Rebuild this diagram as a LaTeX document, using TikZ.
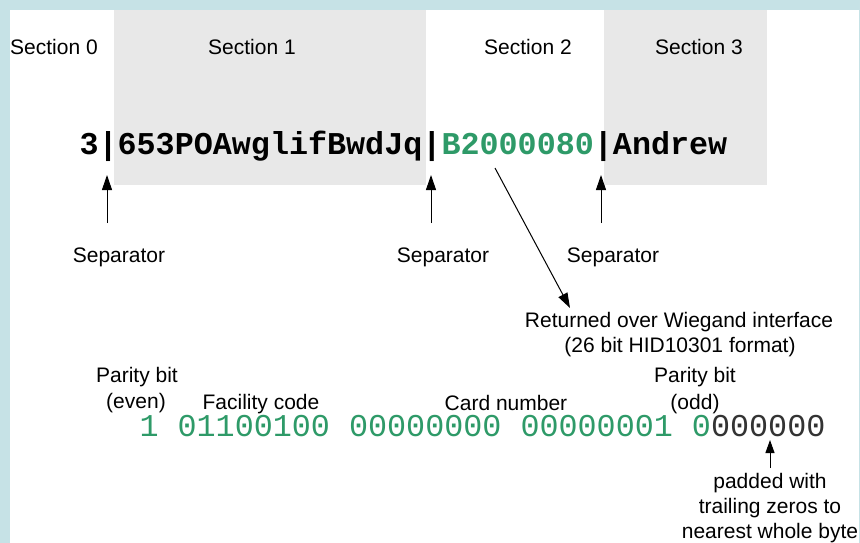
\documentclass[tikz,border=0pt]{standalone}
\usepackage{fontspec}
\setmainfont{Liberation Sans}
\newfontfamily\monofont{Liberation Mono}
\usetikzlibrary{arrows.meta}
\definecolor{frameblue}{RGB}{198,226,230}
\definecolor{boxgray}{RGB}{232,232,232}
\definecolor{bitgreen}{RGB}{46,154,104}
\definecolor{padgray}{RGB}{51,51,51}
\begin{document}
\begin{tikzpicture}[x=1pt,y=-1pt,
  lbl/.style={font=\fontsize{21}{25}\selectfont, inner sep=0pt, outer sep=0pt, anchor=base},
  code/.style={font=\monofont\fontsize{31.75}{36}\selectfont, inner sep=0pt, outer sep=0pt, anchor=base west},
  arr/.style={line width=1pt, -{Triangle[length=15pt,width=10pt]}},
  smallarr/.style={line width=1pt, -{Triangle[length=13pt,width=9pt]}}]
\useasboundingbox (0,0) rectangle (860,543);
% frame
\fill[frameblue] (0,0) rectangle (860,543);
\fill[white] (10,10) rectangle (858.5,543);
% section backgrounds
\fill[boxgray] (114,10) rectangle (426,185);
\fill[boxgray] (604,10) rectangle (767,185);
% section labels
\node[lbl] (s0) at (54,55) {Section 0};
\node[lbl] (s1) at (252,55) {Section 1};
\node[lbl] (s2) at (528,55) {Section 2};
\node[lbl] (s3) at (699,55) {Section 3};
% main string
\node[code, font=\monofont\bfseries\fontsize{31.75}{36}\selectfont] (str) at (79.5,154)
  {3|653POAwglifBwdJq|\textcolor{bitgreen}{B2000080}|Andrew};
% separator labels
\node[lbl] (sep1) at (119,262) {Separator};
\node[lbl] (sep2) at (443,262) {Separator};
\node[lbl] (sep3) at (613,262) {Separator};
% separator arrows
\coordinate (t1) at (107,223); \coordinate (h1) at (107,175);
\coordinate (t2) at (431,223); \coordinate (h2) at (431,175);
\coordinate (t3) at (601,223); \coordinate (h3) at (601,175);
\draw[arr] (t1) -- (h1);
\draw[arr] (t2) -- (h2);
\draw[arr] (t3) -- (h3);
% Wiegand
\node[lbl] (ret1) at (679,327) {Returned over Wiegand interface};
\node[lbl] (ret2) at (680,352) {(26 bit HID10301 format)};
\coordinate (wt) at (495,168); \coordinate (wh) at (570,308);
\draw[arr] (wt) -- (wh);
% bit labels
\node[lbl] (pe1) at (137,382) {Parity bit};
\node[lbl] (pe2) at (136,408) {(even)};
\node[lbl] (fc) at (261,409) {Facility code};
\node[lbl] (cn) at (506,410) {Card number};
\node[lbl] (po1) at (695,382) {Parity bit};
\node[lbl] (po2) at (695,409) {(odd)};
% bit string
\node[code] (bits) at (139.5,436)
  {\textcolor{bitgreen}{1 01100100 00000000 00000001 0}\textcolor{padgray}{000000}};
% padding
\coordinate (pt) at (770,468); \coordinate (ph) at (770,440);
\draw[smallarr] (pt) -- (ph);
\node[lbl] (pd1) at (770,488) {padded with};
\node[lbl] (pd2) at (770,513) {trailing zeros to};
\node[lbl] (pd3) at (770,538) {nearest whole byte};
\end{tikzpicture}
\end{document}
